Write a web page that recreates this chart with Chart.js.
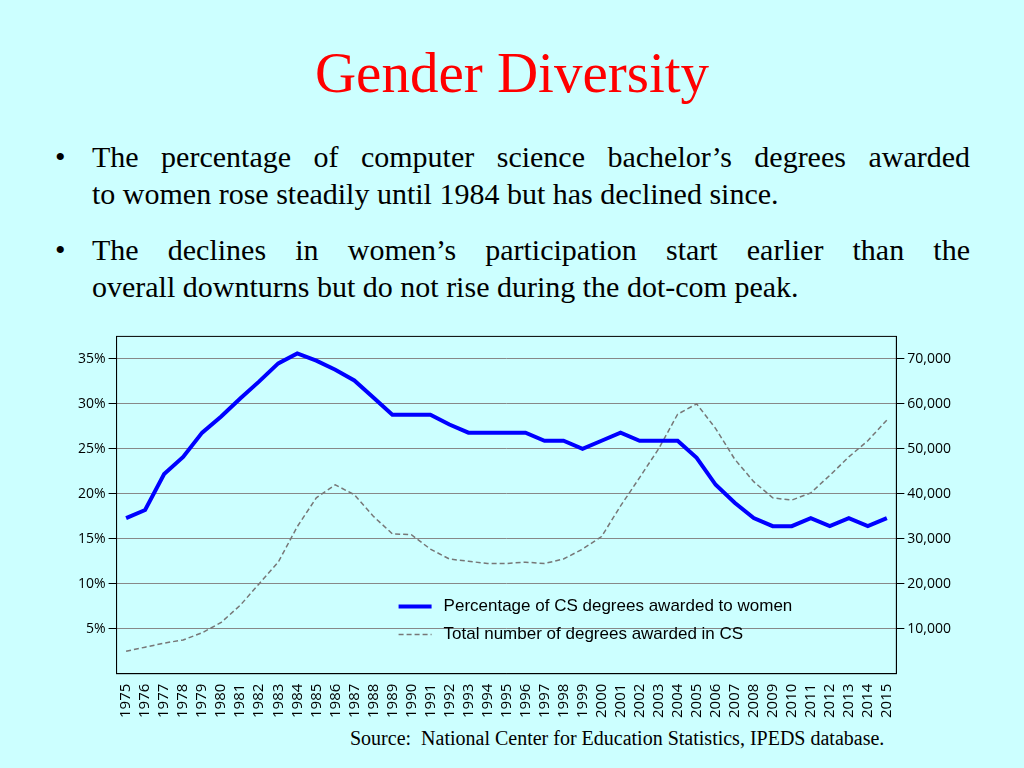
<!DOCTYPE html>
<html><head><meta charset="utf-8">
<script src="https://cdn.jsdelivr.net/npm/chart.js@4"></script>
<style>
body{margin:0;width:1024px;height:768px;background:#ccffff;position:relative;overflow:hidden;font-family:"Liberation Serif","Times New Roman",serif;}
#title{position:absolute;top:40px;left:0;width:1024px;text-align:center;color:#ff0000;font-size:57px;}
.b{position:absolute;left:55px;font-size:30px;line-height:37px;color:#000;white-space:nowrap;}
.b span.dot{position:absolute;left:0;}
.b div{margin-left:37px;width:878px;}
#src{position:absolute;top:727px;left:350px;font-size:20px;}
#wrap{position:absolute;left:75px;top:325px;width:879px;height:395px;}
</style></head><body>
<div id="title">Gender Diversity</div>
<div class="b" style="top:138px"><span class="dot">•</span><div style="text-align:justify;text-align-last:justify">The percentage of computer science bachelor’s degrees awarded</div><div>to women rose steadily until 1984 but has declined since.</div></div>
<div class="b" style="top:231px"><span class="dot">•</span><div style="text-align:justify;text-align-last:justify">The declines in women’s participation start earlier than the</div><div>overall downturns but do not rise during the dot-com peak.</div></div>
<div id="src">Source:&nbsp; National Center for Education Statistics, IPEDS database.</div>
<div id="wrap"><canvas id="c"></canvas></div>
<script>
const years=[];for(let y=1975;y<=2015;y++)years.push(String(y));
const pctWomen=[17.3,18.2,22.2,24.1,26.8,28.6,30.6,32.5,34.5,35.6,34.8,33.8,32.6,30.7,28.8,28.8,28.8,27.7,26.8,26.8,26.8,26.8,25.9,25.9,25.0,25.9,26.8,25.9,25.9,25.9,24.0,21.0,19.0,17.3,16.4,16.4,17.3,16.4,17.3,16.4,17.3];
const totalDegrees=[5000,5900,6800,7500,9100,11400,15200,20000,24800,32700,39100,42000,39800,35000,31100,30900,27700,25500,25000,24500,24500,24800,24500,25500,27700,30500,37300,43600,50000,57700,60000,54500,47700,42700,39100,38600,40200,44100,48200,51800,56400];
const pctTicks=[5,10,15,20,25,30,35];
const countTicks=[10000,20000,30000,40000,50000,60000,70000];
const legendLabels=["Percentage of CS degrees awarded to women","Total number of degrees awarded in CS"];
const tickFont={family:"'Open Sans'",size:14};
const legendPlugin={id:'lg',afterDraw(ch){const c=ch.ctx,a=ch.chartArea;const x=a.left+282,y=a.top+270;c.save();c.font="17px 'Liberation Sans'";c.fillStyle='#000';c.textBaseline='middle';
c.strokeStyle='#0000ff';c.lineWidth=4;c.setLineDash([]);c.beginPath();c.moveTo(x,y);c.lineTo(x+33,y);c.stroke();c.fillText(legendLabels[0],x+45,y);
c.strokeStyle='#777';c.lineWidth=1.5;c.setLineDash([5,3]);c.beginPath();c.moveTo(x,y+28);c.lineTo(x+33,y+28);c.stroke();c.fillText(legendLabels[1],x+45,y+28);c.restore();}};
new Chart(document.getElementById('c'),{type:'line',data:{labels:years,datasets:[
{data:pctWomen,yAxisID:'y',borderColor:'#0000ff',borderWidth:4,pointRadius:0,tension:0},
{data:totalDegrees,yAxisID:'y1',borderColor:'#777',borderWidth:1.5,borderDash:[5,3],pointRadius:0,tension:0}]},
options:{responsive:true,maintainAspectRatio:false,animation:false,layout:{padding:{top:8}},
plugins:{legend:{display:false},tooltip:{enabled:false}},
scales:{x:{offset:true,grid:{display:false,drawTicks:true},border:{color:'#000'},ticks:{color:'#000',font:{family:"'Open Sans'",size:15},maxRotation:90,minRotation:90,autoSkip:false,padding:2}},
y:{position:'left',min:0,max:37.5,afterBuildTicks:s=>{s.ticks=pctTicks.map(v=>({value:v}));},ticks:{color:'#000',font:tickFont,callback:v=>v+'%'},grid:{color:'#888',tickColor:'#000'},border:{color:'#000'}},
y1:{position:'right',min:0,max:75000,afterBuildTicks:s=>{s.ticks=countTicks.map(v=>({value:v}));},ticks:{color:'#000',font:tickFont,callback:v=>v.toLocaleString('en-US')},grid:{drawOnChartArea:false,tickColor:'#000'},border:{color:'#000'}}}},
plugins:[legendPlugin,{id:'box',afterDraw(ch){const c=ch.ctx,a=ch.chartArea;c.save();c.strokeStyle='#000';c.lineWidth=1;c.strokeRect(a.left,a.top,a.right-a.left,a.bottom-a.top);c.restore();}}]});
</script></body></html>
